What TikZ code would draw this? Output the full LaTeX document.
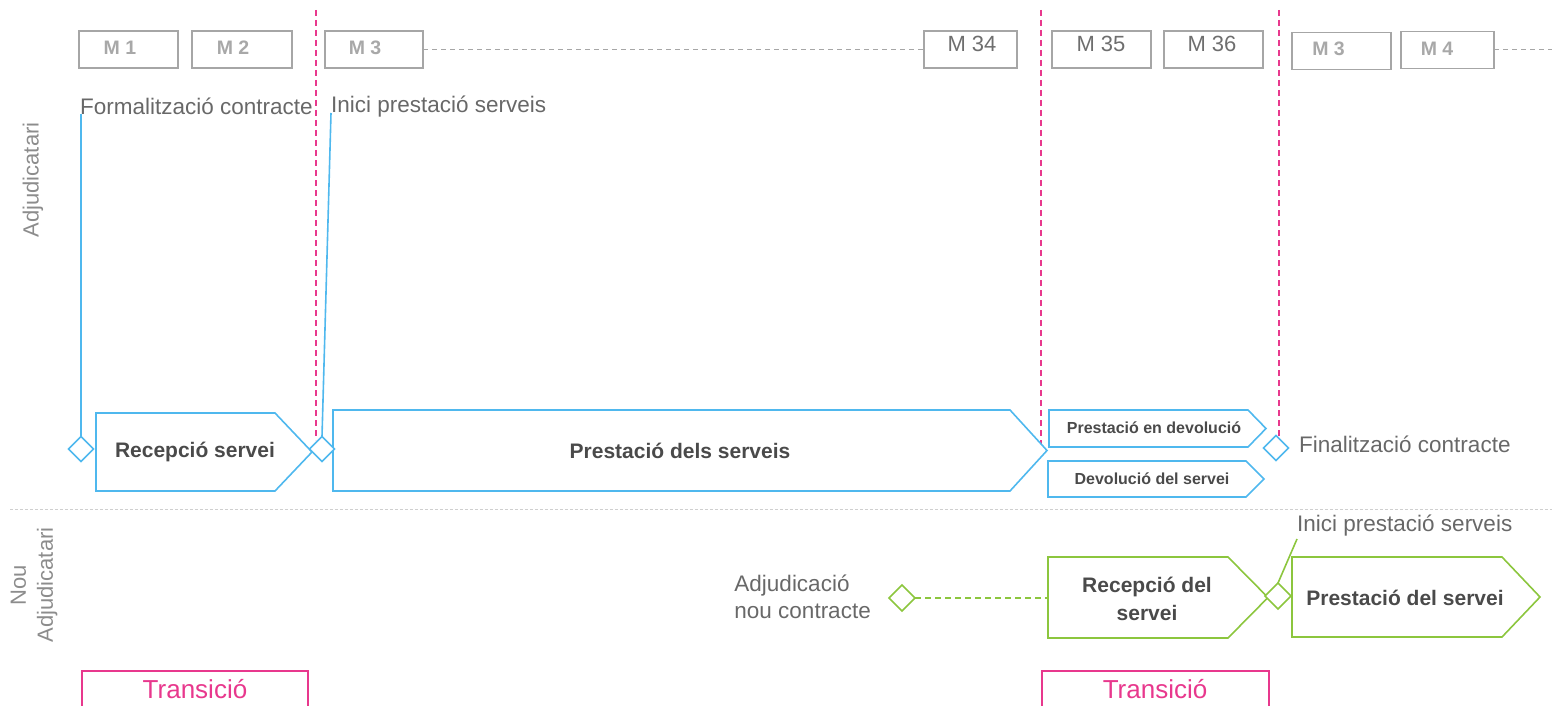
\documentclass[tikz,border=0pt]{standalone}
\usepackage{fontspec}
\setmainfont{Liberation Sans}
\usetikzlibrary{shapes.geometric}
\pgfdeclarelayer{bg}
\pgfsetlayers{bg,main}
\definecolor{cblue}{HTML}{4FB8EE}
\definecolor{cgreen}{HTML}{8CC63E}
\definecolor{cpink}{HTML}{E8388D}
\definecolor{boxgray}{HTML}{A6A6A6}
\definecolor{tgray}{HTML}{686868}
\definecolor{tlight}{HTML}{8C8C8C}
\definecolor{tdark}{HTML}{4A4A4A}
\definecolor{mgray}{HTML}{A8A8A8}
\definecolor{mdark}{HTML}{6E6E6E}
\definecolor{sepgray}{HTML}{CFCFCF}
\begin{document}
\begin{tikzpicture}[x=1pt,y=-1pt,
  mbox/.style={draw=boxgray,line width=1.4pt,minimum width=#1,minimum height=37pt,inner sep=0,outer sep=0},
  mbold/.style={font=\fontsize{19.5}{22}\selectfont\bfseries,text=mgray,inner sep=0},
  mreg/.style={font=\fontsize{22}{25}\selectfont,text=mdark,inner sep=0},
  lbl/.style={font=\fontsize{22.5}{27}\selectfont,text=tgray,inner sep=0},
  sidelbl/.style={font=\fontsize{22}{27}\selectfont,text=tlight,inner sep=0,rotate=90,align=center},
  boldlbl/.style={font=\fontsize{21}{28}\selectfont\bfseries,text=tdark,inner sep=0,align=center},
  smallbold/.style={font=\fontsize{16}{19}\selectfont\bfseries,text=tdark,inner sep=0},
  bluebox/.style={draw=cblue,line width=1.6pt,line join=miter},
  greenbox/.style={draw=cgreen,line width=1.6pt,line join=miter},
  blueline/.style={draw=cblue,line width=1.6pt},
  greenline/.style={draw=cgreen,line width=1.6pt},
  bdiam/.style={diamond,draw=cblue,fill=white,line width=1.6pt,minimum width=25pt,minimum height=25pt,inner sep=0,outer sep=0},
  gdiam/.style={diamond,draw=cgreen,fill=white,line width=1.6pt,minimum width=26pt,minimum height=26pt,inner sep=0,outer sep=0},
  pinkdash/.style={draw=cpink,line width=1.3pt,dash pattern=on 6pt off 4pt},
  graydash/.style={draw=boxgray,line width=1pt,dash pattern=on 5pt off 4pt},
  sepline/.style={draw=sepgray,line width=0.8pt,dash pattern=on 3pt off 2pt},
  transbox/.style={draw=cpink,line width=1.5pt},
  translbl/.style={font=\fontsize{26}{30}\selectfont,text=cpink,inner sep=0}
]
\useasboundingbox (0,0) rectangle (1552,706);

% pink dashed period separators
\coordinate (p1t) at (316,10);  \coordinate (p1b) at (316,440);
\coordinate (p2t) at (1041,10); \coordinate (p2b) at (1041,444);
\coordinate (p3t) at (1279,10); \coordinate (p3b) at (1279,436);
\draw[pinkdash] (p1t) -- (p1b);
\draw[pinkdash] (p2t) -- (p2b);
\draw[pinkdash] (p3t) -- (p3b);

% month boxes
\node[mbox=99pt] (m1) at (128.5,49.5) {};
\node[mbold] (m1t) at (120,48) {M 1};
\node[mbox=100pt] (m2) at (242,49.5) {};
\node[mbold] (m2t) at (233,48) {M 2};
\node[mbox=98pt] (m3) at (374,49.5) {};
\node[mbold] (m3t) at (365,48) {M 3};
\node[mbox=93pt] (m34) at (970.5,49.5) {};
\node[mreg] (m34t) at (972,43.5) {M 34};
\node[mbox=99pt] (m35) at (1101.5,49.5) {};
\node[mreg] (m35t) at (1101,43.5) {M 35};
\node[mbox=99pt] (m36) at (1213.5,49.5) {};
\node[mreg] (m36t) at (1212,43.5) {M 36};
\node[mbox=99pt] (m3b) at (1341.5,51) {};
\node[mbold] (m3bt) at (1328.5,49) {M 3};
\node[mbox=93pt] (m4) at (1447.5,50) {};
\node[mbold] (m4t) at (1437,49) {M 4};
\coordinate (mend) at (1552,50);
\draw[graydash] (m3.east) -- (m34.west);
\draw[graydash] (m4.east) -- (mend);

% lane labels
\node[sidelbl] (lane1) at (33,180) {Adjudicatari};
\node[sidelbl] (lane2) at (34,585) {Nou\\Adjudicatari};
\coordinate (sepL) at (10,509); \coordinate (sepR) at (1552,509);
\draw[sepline] (sepL) -- (sepR);

% milestone texts
\node[lbl,anchor=base west] (formal) at (80,114) {Formalització contracte};
\node[lbl,anchor=base west] (inici1) at (331,113) {Inici prestació serveis};
\node[lbl,anchor=base west] (final) at (1299,452) {Finalització contracte};
\node[lbl,anchor=base west] (inici2) at (1297,531) {Inici prestació serveis};
\node[lbl,anchor=east,align=left] (adjnou) at (871,597) {Adjudicació\\nou contracte};

% blue process shapes (current contractor)
\draw[bluebox] (96,413) -- (275,413) -- (312,452) -- (275,491) -- (96,491) -- cycle;
\node[boldlbl] (rs) at (195,452) {Recepció servei};
\draw[bluebox] (333,410) -- (1010,410) -- (1047,450.5) -- (1010,491) -- (333,491) -- cycle;
\node[boldlbl] (ps) at (680,451) {Prestació dels serveis};
\draw[bluebox] (1049,410) -- (1248,410) -- (1266,428.5) -- (1248,447) -- (1049,447) -- cycle;
\node[smallbold] (pd) at (1154,427.5) {Prestació en devolució};
\draw[bluebox] (1048,461) -- (1246,461) -- (1264,479) -- (1246,497) -- (1048,497) -- cycle;
\node[smallbold] (ds) at (1152,479) {Devolució del servei};

% green process shapes (new contractor)
\draw[greenbox] (1048,557) -- (1228,557) -- (1268,597.5) -- (1228,638) -- (1048,638) -- cycle;
\coordinate (rgL) at (1048,598);
\node[boldlbl] (rg) at (1147,599) {Recepció del\\servei};
\draw[greenbox] (1292,557) -- (1502,557) -- (1540,597) -- (1502,637) -- (1292,637) -- cycle;
\node[boldlbl] (pg) at (1405,598) {Prestació del servei};

% milestone diamonds
\node[bdiam] (d1) at (81,449) {};
\node[bdiam] (d2) at (322,449) {};
\node[bdiam] (d3) at (1276,448) {};
\node[gdiam] (d4) at (902,598) {};
\node[gdiam] (d5) at (1278,596) {};

% leader lines (behind diamonds)
\begin{pgfonlayer}{bg}
\draw[blueline] (d1.north) -- (d1.north |- formal.base);
\draw[blueline] (d2.north) -- (inici1.base west);
\draw[greenline] (d5.north) -- ([yshift=-8pt]inici2.base west);
\draw[greenline,dash pattern=on 6pt off 4pt] (d4.east) -- (rgL);
\end{pgfonlayer}

% transition markers
\draw[transbox] (82,712) -- (82,671) -- (308,671) -- (308,712);
\node[translbl] (tr1) at (195,689) {Transició};
\draw[transbox] (1042,712) -- (1042,671) -- (1269,671) -- (1269,712);
\node[translbl] (tr2) at (1155,689) {Transició};
\end{tikzpicture}
\end{document}
